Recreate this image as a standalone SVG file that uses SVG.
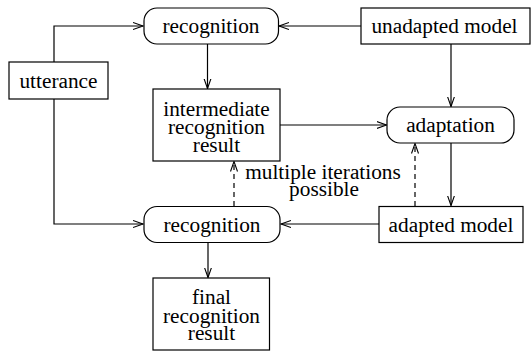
<svg xmlns="http://www.w3.org/2000/svg" width="531" height="352" viewBox="0 0 531 352">
<style>
.box{fill:#fff;stroke:#000;stroke-width:1.2}
.t{font-family:'Liberation Serif','Tinos','Times New Roman','DejaVu Serif',serif;font-size:21.3px;fill:#000;text-anchor:middle}
.c{fill:none;stroke:#000;stroke-width:1.2}
.d{stroke-dasharray:5,4}
</style>
<defs>
<marker id="ah" markerUnits="userSpaceOnUse" markerWidth="12" markerHeight="10" refX="10" refY="4" orient="auto">
<path d="M0,0.5 L10,4 L0,7.5" fill="none" stroke="#000" stroke-width="1.1"/>
</marker>
</defs>
<rect width="531" height="352" fill="#fff"/>
<g id="connectors">
<path class="c" d="M54,62 V26 H143" marker-end="url(#ah)"/>
<path class="c" d="M54,99 V224 H143" marker-end="url(#ah)"/>
<path class="c" d="M361,26 H279" marker-end="url(#ah)"/>
<path class="c" d="M207.5,44 V88.5" marker-end="url(#ah)"/>
<path class="c" d="M280,125 H386.5" marker-end="url(#ah)"/>
<path class="c" d="M451,44 V106.5" marker-end="url(#ah)"/>
<path class="c" d="M451,143 V205.5" marker-end="url(#ah)"/>
<path class="c" d="M379,224 H281" marker-end="url(#ah)"/>
<path class="c" d="M208,242.5 V277.5" marker-end="url(#ah)"/>
<path class="c d" d="M234,206 V161.5" marker-end="url(#ah)"/>
<path class="c d" d="M415,206 V143.5" marker-end="url(#ah)"/>
</g>
<g id="recognition-top">
<rect class="box" x="144" y="8" width="134.5" height="36" rx="13"/>
<text class="t" x="211" y="33" font-family="Liberation Serif, serif">recognition</text>
</g>
<g id="unadapted-model">
<rect class="box" x="361" y="8" width="169" height="36"/>
<text class="t" x="444.5" y="33">unadapted model</text>
</g>
<g id="utterance">
<rect class="box" x="9" y="62" width="99" height="37"/>
<text class="t" x="58.5" y="88">utterance</text>
</g>
<g id="intermediate-result">
<rect class="box" x="153" y="89" width="127" height="72"/>
<text class="t" x="216.5" y="115.5">intermediate</text>
<text class="t" x="216.5" y="134">recognition</text>
<text class="t" x="216.5" y="151.5">result</text>
</g>
<g id="adaptation">
<rect class="box" x="387" y="107" width="127" height="36" rx="13"/>
<text class="t" x="450.5" y="132">adaptation</text>
</g>
<g id="iterations-label">
<text class="t" x="323" y="179">multiple iterations</text>
<text class="t" x="324" y="196">possible</text>
</g>
<g id="recognition-bottom">
<rect class="box" x="144" y="206.5" width="136" height="36" rx="13"/>
<text class="t" x="212" y="232">recognition</text>
</g>
<g id="adapted-model">
<rect class="box" x="379" y="206.5" width="144" height="36"/>
<text class="t" x="451" y="232">adapted model</text>
</g>
<g id="final-result">
<rect class="box" x="153" y="278" width="116.5" height="72"/>
<text class="t" x="211.5" y="304">final</text>
<text class="t" x="211.5" y="322.5">recognition</text>
<text class="t" x="211.5" y="340">result</text>
</g>
</svg>
